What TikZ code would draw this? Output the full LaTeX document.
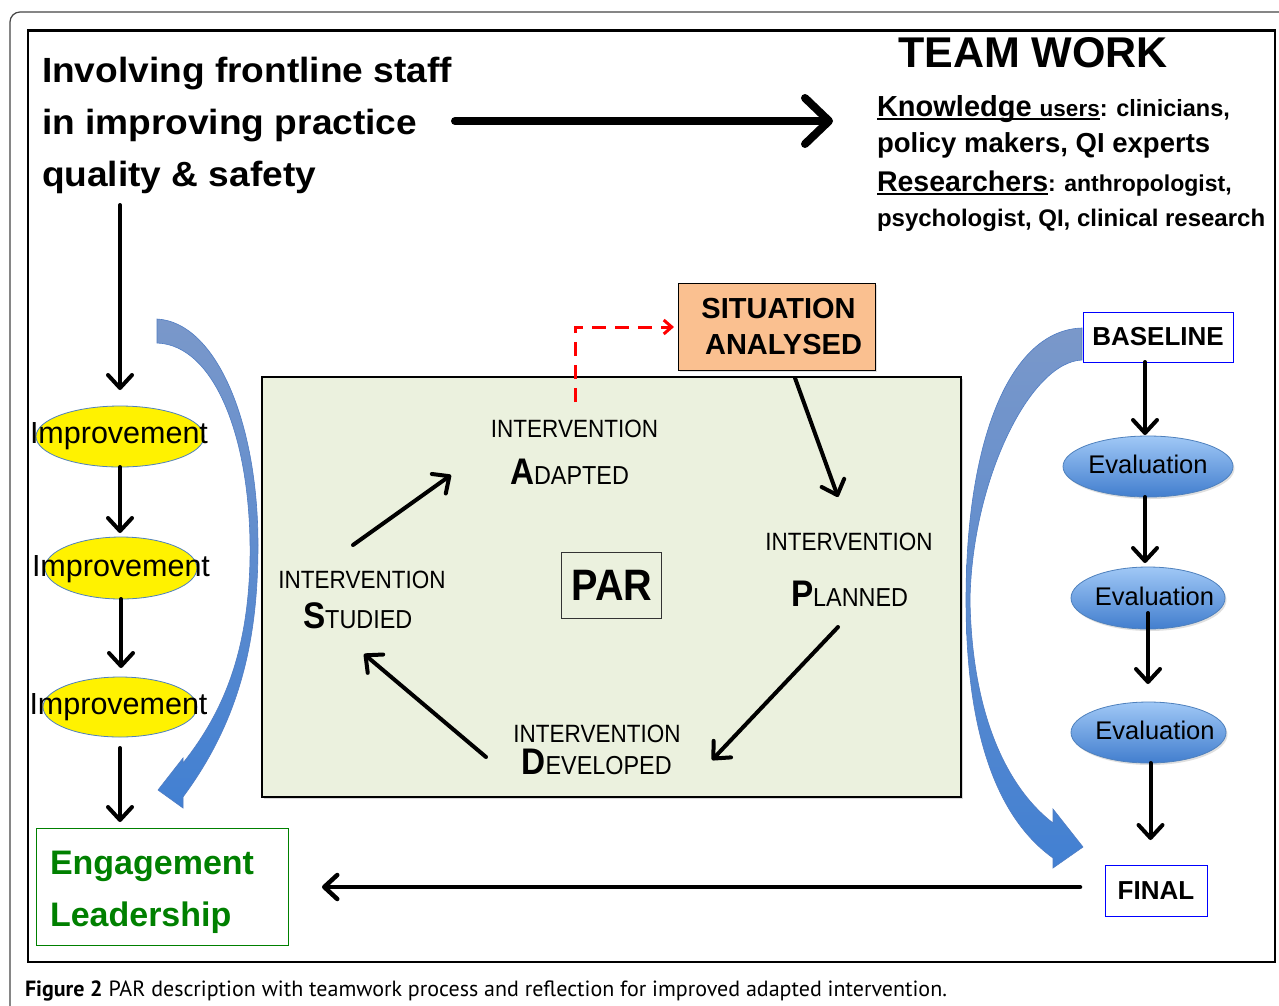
\documentclass[tikz,border=0pt]{standalone}
\usepackage{fontspec}
\setmainfont{Liberation Sans}
\newfontfamily\ttlfont[FakeStretch=1.06]{Liberation Sans}
\newfontfamily\condfont[FakeStretch=0.9]{Liberation Sans}
\newfontfamily\capfont{PT Sans}
\usetikzlibrary{arrows.meta,shapes.geometric,shadows}
\newcommand\fsz[1]{\fontsize{#1pt}{#1pt}\selectfont}
\newcommand\myul[1]{\setbox0=\hbox{#1}\rlap{\rule[-4pt]{\wd0}{2pt}}\box0}
\newcommand\scw[2]{{\fsz{37}\bfseries #1}{\fsz{26}#2}}
\definecolor{parfill}{RGB}{235,241,222}
\definecolor{sitfill}{RGB}{250,192,144}
\definecolor{engreen}{RGB}{0,128,0}
\definecolor{ellborder}{RGB}{79,129,189}
\definecolor{evtop}{RGB}{160,200,246}
\definecolor{evbot}{RGB}{66,126,206}
\definecolor{bandtop}{RGB}{122,152,202}
\definecolor{bandbot}{RGB}{66,128,210}
\definecolor{bandedge}{RGB}{80,125,195}
\definecolor{framegray}{RGB}{70,70,70}
\begin{document}
\begin{tikzpicture}[x=1pt,y=-1pt,
  blk/.style={line width=4pt, line cap=round, -{Straight Barb[round,length=13pt,width=24pt]}},
  bigarrow/.style={line width=8pt, line cap=round, -{Straight Barb[round,length=24pt,width=46pt]}},
  reddash/.style={red, line width=3pt, dash pattern=on 14pt off 9pt, -{Straight Barb[length=8pt,width=14pt]}},
  plain/.style={inner sep=0pt, outer sep=0pt},
  impell/.style={ellipse, plain, fill=yellow, draw=ellborder, line width=0.8pt},
  imptext/.style={plain, anchor=base, font=\fsz{30.5}},
  evell/.style={ellipse, plain, top color=evtop, bottom color=evbot, draw=ellborder, line width=0.8pt,
     drop shadow={opacity=0.25, shadow xshift=1.5pt, shadow yshift=-2pt}},
  evtext/.style={plain, anchor=base, font=\fsz{25.5}},
  bluebox/.style={rectangle, plain, draw=blue, line width=1pt, fill=white, font=\fsz{26}\bfseries},
  cyc/.style={plain, anchor=base, font=\condfont\fsz{25}},
  cycw/.style={plain, anchor=base west, font=\condfont},
  band/.style={top color=bandtop, bottom color=bandbot, draw=bandedge, line width=0.6pt},
  kline/.style={plain, anchor=base west, font=\bfseries},
  ttl/.style={plain, anchor=base west, font=\ttlfont\fsz{35}\bfseries}
]
\useasboundingbox (0,0) rectangle (1279,1005);
\fill[white] (0,0) rectangle (1279,1005);

% frames
\draw[line width=1.2pt, framegray, rounded corners=10pt] (1290,12) -- (10,12) -- (10,1015);
\draw[line width=1.4pt] (28,30) rectangle (1275,962);
\draw[line width=3pt] (28,30) -- (1275,30);

% title
\node[ttl] (t1) at (42,82.5) {Involving frontline staff};
\node[ttl] (t2) at (42,134) {in improving practice};
\node[ttl] (t3) at (42,186) {quality \& safety};

% team work block
\node[plain, anchor=base, font=\fsz{43}\bfseries] (tw) at (1033,67) {TEAM WORK};
\node[kline] (k1) at (877,116) {\fsz{29}\myul{Knowledge {\fsz{22.5}users}}\fsz{23.5}: clinicians,};
\node[kline] (k2) at (877,152) {\fsz{27.5}policy makers, QI experts};
\node[kline] (k3) at (877,191) {\fsz{28.5}\myul{Researchers}\fsz{23}: anthropologist,};
\node[kline] (k4) at (877,226) {\fsz{24}psychologist, QI, clinical research};

\coordinate (bigS) at (455,121);
\coordinate (bigE) at (833,121);
\draw[bigarrow] (bigS) -- (bigE);

% blue curved bands
\path[band] (157,319) .. controls (215,322) and (258,420) .. (258,545)
  .. controls (258,640) and (240,720) .. (183,797) -- (183,808) -- (158,790) -- (183,758) -- (183,763)
  .. controls (225,710) and (248,650) .. (250,560)
  .. controls (252,440) and (215,345) .. (157,343) -- cycle;
\path[band] (1082,328) .. controls (1010,330) and (966,440) .. (966,600)
  .. controls (966,740) and (1000,820) .. (1053,858) -- (1053,868) -- (1083,847) -- (1053,809) -- (1053,823)
  .. controls (1010,790) and (972,720) .. (970,600)
  .. controls (972,480) and (1030,362) .. (1082,360) -- cycle;

% left column
\node[impell, minimum width=168pt, minimum height=61pt] (imp1) at (120,436.5) {};
\node[imptext] (imp1t) at (119,443) {Improvement};
\node[impell, minimum width=152pt, minimum height=62pt] (imp2) at (121,568) {};
\node[imptext] (imp2t) at (121,576) {Improvement};
\node[impell, minimum width=154pt, minimum height=60pt] (imp3) at (120,707) {};
\node[imptext] (imp3t) at (118.5,714) {Improvement};

\node[rectangle, plain, draw=engreen, line width=1pt, minimum width=252pt, minimum height=117pt, anchor=north west] (eng) at (36,828) {};
\node[plain, anchor=base west, font=\fsz{34}\bfseries, text=engreen] (eng1) at (50,874) {Engagement};
\node[plain, anchor=base west, font=\fsz{34}\bfseries, text=engreen] (eng2) at (50,926) {Leadership};

\coordinate (v0) at (120,205);
\draw[blk, shorten >=16pt] (v0) -- (v0 |- imp1.north);
\draw[blk, shorten >=4pt] (imp1.south) -- (imp1.south |- imp2.north);
\draw[blk, shorten >=9pt] (imp2.south) -- (imp2.south |- imp3.north);
\draw[blk, shorten <=11pt, shorten >=6pt] (imp3.south) -- (imp3.south |- eng.north);

% PAR area
\node[rectangle, plain, fill=parfill, draw=black, line width=1.2pt, minimum width=699pt, minimum height=420pt, anchor=north west,
  drop shadow={opacity=0.3, shadow xshift=2pt, shadow yshift=-2pt}] (parbg) at (262,377) {};
\node[rectangle, plain, fill=sitfill, draw=black, line width=1pt, minimum width=197pt, minimum height=87pt,
  drop shadow={opacity=0.25, shadow xshift=1.5pt, shadow yshift=-1.5pt}] (sit) at (776.5,327) {};
\node[plain, anchor=base, font=\fsz{29}\bfseries] (sit1) at (778.5,318) {SITUATION};
\node[plain, anchor=base, font=\fsz{29}\bfseries] (sit2) at (783.5,354) {ANALYSED};

\node[rectangle, plain, draw=black!80, line width=1pt, minimum width=100pt, minimum height=66pt] (par) at (611.5,585.5) {};
\node[plain, anchor=base, font=\condfont\fsz{44}\bfseries] (part) at (612,600.5) {PAR};

\node[cyc] (iA) at (574.5,437) {INTERVENTION};
\node[cycw] (wA) at (510,484) {\scw{A}{DAPTED}};
\node[cyc] (iP) at (849,550) {INTERVENTION};
\node[cycw] (wP) at (791,606) {\scw{P}{LANNED}};
\node[cyc] (iD) at (597,742) {INTERVENTION};
\node[cycw] (wD) at (521.5,774) {\scw{D}{EVELOPED}};
\node[cyc] (iS) at (362,588) {INTERVENTION};
\node[cycw] (wS) at (303,628) {\scw{S}{TUDIED}};

\coordinate (c1s) at (795,378);
\coordinate (c1e) at (838,497);
\coordinate (c2s) at (838,627);
\coordinate (c2e) at (712,760);
\coordinate (c3s) at (486,757);
\coordinate (c3e) at (364,654);
\coordinate (c4s) at (353,545);
\coordinate (c4e) at (451,475);
\draw[blk] (c1s) -- (c1e);
\draw[blk] (c2s) -- (c2e);
\draw[blk] (c3s) -- (c3e);
\draw[blk] (c4s) -- (c4e);

\coordinate (rd) at (575,402);
\draw[reddash, shorten >=4pt] (rd) |- (sit.west);

% right column
\node[bluebox, minimum width=150pt, minimum height=50pt] (base) at (1158,337) {BASELINE};
\node[evell, minimum width=170pt, minimum height=61pt] (ev1) at (1148,466.5) {};
\node[evtext] (ev1t) at (1148,473) {Evaluation};
\node[evell, minimum width=154pt, minimum height=62pt] (ev2) at (1148,598) {};
\node[evtext] (ev2t) at (1154.5,605) {Evaluation};
\node[evell, minimum width=155pt, minimum height=61pt] (ev3) at (1148.5,732.5) {};
\node[evtext] (ev3t) at (1155,739) {Evaluation};
\node[bluebox, minimum width=102pt, minimum height=51pt] (final) at (1156,890.5) {FINAL};

\draw[blk, shorten >=1pt] ([xshift=-13pt]base.south) -- ([xshift=-13pt]base.south |- ev1.north);
\draw[blk, shorten >=4pt] ([xshift=-3pt]ev1.south) -- ([xshift=-3pt]ev1.south |- ev2.north);
\draw[blk, shorten >=2pt] ([yshift=16pt]ev2.south) -- ([yshift=16pt]ev2.south |- ev3.north);
\draw[blk, shorten >=25pt] ([xshift=2pt]ev3.south) -- ([xshift=2pt]ev3.south |- final.north);

\coordinate (fa) at (1080,887);
\coordinate (fb) at (322,887);
\draw[blk, line width=4.5pt] (fa) -- (fb);

% caption
\node[plain, anchor=base west, font=\capfont\fsz{22}] (cap) at (25,996) {\textbf{Figure 2} PAR description with teamwork process and reflection for improved adapted intervention.};
\end{tikzpicture}
\end{document}
